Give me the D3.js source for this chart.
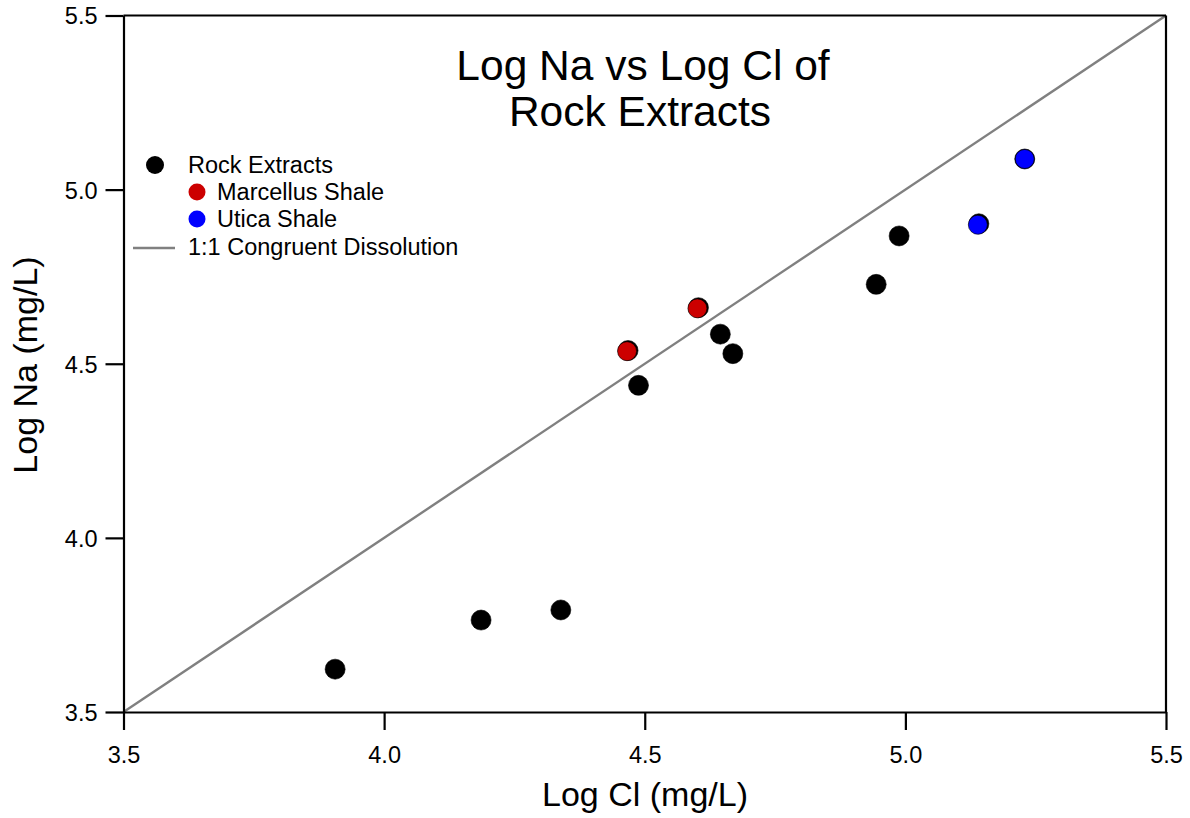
<!DOCTYPE html>
<html>
<head>
<meta charset="utf-8">
<script src="https://cdn.jsdelivr.net/npm/d3@7"></script>
<style>
 body { margin: 0; background: #fff; }
 text { font-family: Arial, "Liberation Sans", sans-serif; fill: #000; }
</style>
</head>
<body>
<script>
 // Data (log10 mg/L)
 var rockCl = [3.906, 4.186, 4.339, 4.488, 4.468, 4.603, 4.645, 4.669, 4.944, 4.988, 5.141, 5.229];
 var rockNa = [3.623, 3.764, 3.793, 4.438, 4.538, 4.661, 4.585, 4.529, 4.728, 4.867, 4.902, 5.088];
 var marcellusCl = [4.466, 4.601];
 var marcellusNa = [4.536, 4.659];
 var uticaCl = [5.139, 5.229];
 var uticaNa = [4.899, 5.088];
 var lineVals = [3.5, 5.5];
 var tickVals = [3.5, 4.0, 4.5, 5.0, 5.5];
 var legendLabels = ["Rock Extracts", "Marcellus Shale", "Utica Shale", "1:1 Congruent Dissolution"];

 var width = 1190, height = 818;
 var margin = {top: 15.5, right: 24, bottom: 106, left: 123.5};

 var svg = d3.select("body").append("svg")
   .attr("width", width)
   .attr("height", height);

 var x = d3.scaleLinear().domain([3.5, 5.5]).range([margin.left, width - margin.right]);
 var y = d3.scaleLinear().domain([3.5, 5.5]).range([height - margin.bottom, margin.top]);

 // 1:1 line
 svg.append("line")
   .attr("x1", x(lineVals[0])).attr("y1", y(lineVals[0]))
   .attr("x2", x(lineVals[1])).attr("y2", y(lineVals[1]))
   .attr("stroke", "#808080").attr("stroke-width", 2.4);

 // axes
 var xAxis = svg.append("g")
   .attr("transform", "translate(0," + y(3.5) + ")")
   .call(d3.axisBottom(x).tickValues(tickVals).tickFormat(d3.format(".1f")).tickSize(18).tickSizeOuter(0).tickPadding(13));
 var yAxis = svg.append("g")
   .attr("transform", "translate(" + x(3.5) + ",0)")
   .call(d3.axisLeft(y).tickValues(tickVals).tickFormat(d3.format(".1f")).tickSize(18).tickSizeOuter(0).tickPadding(8));

 [xAxis, yAxis].forEach(function(a){
   a.select(".domain").attr("stroke", "#000").attr("stroke-width", 2.2);
   a.selectAll(".tick line").attr("stroke", "#000").attr("stroke-width", 2.2);
   a.selectAll(".tick text").style("font-size", "23.5px").attr("fill", "#000");
 });
 xAxis.selectAll(".tick text").attr("dy", "0.85em");
 yAxis.selectAll(".tick text").attr("dy", "0.36em");

 // frame top / right
 svg.append("line")
   .attr("x1", x(3.5)).attr("x2", x(5.5)).attr("y1", y(5.5)).attr("y2", y(5.5))
   .attr("stroke", "#000").attr("stroke-width", 2.2);
 svg.append("line")
   .attr("x1", x(5.5)).attr("x2", x(5.5)).attr("y1", y(5.5)).attr("y2", y(3.5))
   .attr("stroke", "#000").attr("stroke-width", 2.2);

 // points
 function drawPoints(xs, ys, color, r){
   svg.append("g").selectAll("circle")
     .data(xs)
     .enter().append("circle")
     .attr("cx", function(d){ return x(d); })
     .attr("cy", function(d, i){ return y(ys[i]); })
     .attr("r", r)
     .attr("fill", color)
     .attr("stroke", "#000")
     .attr("stroke-width", 0.6);
 }
 drawPoints(rockCl, rockNa, "#000", 10);
 drawPoints(marcellusCl, marcellusNa, "#cc0000", 9.5);
 drawPoints(uticaCl, uticaNa, "#0000ff", 9.5);

 // title
 var title = svg.append("text")
   .attr("x", 643).attr("y", 80)
   .attr("text-anchor", "middle")
   .style("font-size", "42.5px");
 title.append("tspan").attr("x", 643).text("Log Na vs Log Cl of");
 title.append("tspan").attr("x", 640).attr("dy", 46).text("Rock Extracts");

 // axis titles
 svg.append("text")
   .attr("x", 645).attr("y", 806)
   .attr("text-anchor", "middle")
   .style("font-size", "34px")
   .text("Log Cl (mg/L)");
 svg.append("text")
   .attr("transform", "translate(37,365) rotate(-90)")
   .attr("text-anchor", "middle")
   .style("font-size", "34px")
   .text("Log Na (mg/L)");

 // legend
 var legend = svg.append("g");
 legend.append("circle").attr("cx", 155).attr("cy", 165).attr("r", 9).attr("fill", "#000");
 legend.append("circle").attr("cx", 197).attr("cy", 192).attr("r", 8.5).attr("fill", "#cc0000");
 legend.append("circle").attr("cx", 197).attr("cy", 219).attr("r", 8.5).attr("fill", "#0000ff");
 legend.append("line").attr("x1", 133).attr("x2", 175).attr("y1", 248).attr("y2", 248)
   .attr("stroke", "#808080").attr("stroke-width", 2.4);
 var lx = [188, 217, 217, 188];
 var ly = [173, 200, 227, 255];
 legendLabels.forEach(function(t, i){
   legend.append("text").attr("x", lx[i]).attr("y", ly[i]).style("font-size", "23.5px").text(t);
 });
</script>
</body>
</html>
